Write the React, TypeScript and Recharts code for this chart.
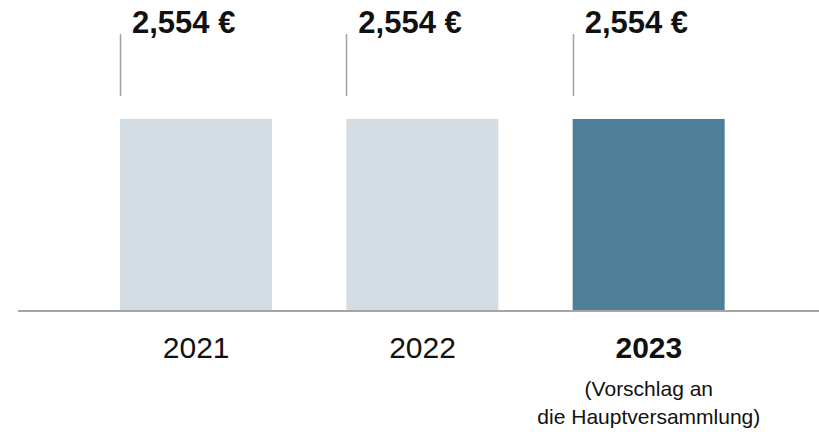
import { BarChart, Bar, XAxis, YAxis, Cell, LabelList } from "recharts"

const years = ["2021", "2022", "2023"]
const dividends = [2.554, 2.554, 2.554]
const labels = ["2,554 €", "2,554 €", "2,554 €"]
const notes = ["", "", "(Vorschlag an|die Hauptversammlung)"]

const data = years.map((year, i) => ({
  year,
  value: dividends[i],
  label: labels[i],
  note: notes[i],
}))

const FONT = "'Liberation Sans', Arial, sans-serif"
const LIGHT = "#d5dde4"
const DARK = "#4d7f98"

/** Thin vertical leader at the bar's left edge, value text to its right. */
function ValueLabel(props: any) {
  const { x, y, index } = props
  const bx = Math.round(x) + 0.5
  return (
    <g>
      <line x1={bx} x2={bx} y1={y - 85} y2={y - 23} stroke="#a0a0a0" strokeWidth={1.5} />
      <text x={x + 12} y={y - 86} fontFamily={FONT} fontSize={31} fontWeight="bold" fill="#111">
        {data[index].label}
      </text>
    </g>
  )
}

function YearTick(props: any) {
  const { x, y, payload, index } = props
  const last = index === years.length - 1
  const note = data[index]?.note ?? ""
  const lines = note ? note.split("|") : []
  return (
    <g>
      <text
        x={x}
        y={y + 39}
        textAnchor="middle"
        fontFamily={FONT}
        fontSize={30}
        fontWeight={last ? "bold" : "normal"}
        fill="#111"
      >
        {payload.value}
      </text>
      {lines.map((l: string, i: number) => (
        <text key={l} x={x} y={y + 77 + i * 28} textAnchor="middle" fontFamily={FONT} fontSize={21} fill="#111">
          {l}
        </text>
      ))}
    </g>
  )
}

export default function App() {
  return (
    <div style={{ position: "absolute", left: 0, top: 0, background: "#fff" }}>
      <BarChart width={819} height={432} data={data} margin={{ top: 119, right: 0, bottom: 0, left: 18 }}>
        <XAxis
          dataKey="year"
          height={121}
          axisLine={{ stroke: "#a6a6a6", strokeWidth: 2 }}
          tickLine={false}
          padding={{ left: 65, right: 57 }}
          tick={<YearTick />}
          interval={0}
        />
        <YAxis hide domain={[0, 2.554]} />
        <Bar dataKey="value" barSize={152} isAnimationActive={false}>
          {data.map((d, i) => (
            <Cell key={d.year} fill={i === data.length - 1 ? DARK : LIGHT} />
          ))}
          <LabelList dataKey="label" content={<ValueLabel />} />
        </Bar>
      </BarChart>
    </div>
  )
}
